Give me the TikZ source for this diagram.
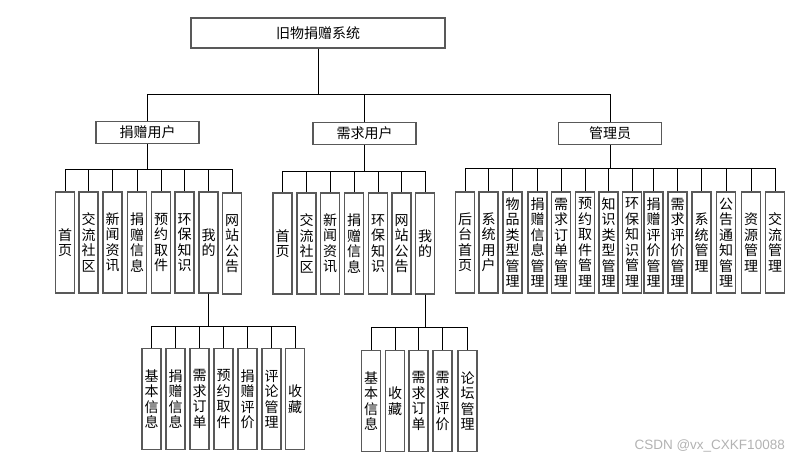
\documentclass[tikz,border=0pt]{standalone}
\usepackage{fontspec}
\newfontfamily\cjk{Noto Sans CJK SC}
\newfontfamily\wmfont{Liberation Sans}
\begin{document}
\begin{tikzpicture}[x=1pt,y=-1pt,
  box/.style={draw=black!65, line width=1.2pt, fill=white, inner sep=0pt, font=\cjk\fontsize{14}{15.5}\selectfont},
  wide/.style={box, minimum width=103pt, minimum height=22pt},
  tall/.style={box, minimum width=19pt, minimum height=101pt, align=center},
  conn/.style={draw=black, line width=0.9pt}]
\useasboundingbox (0,0) rectangle (806,463);
% root
\node[box, minimum width=254pt, minimum height=30pt] (root) at (318,33) {旧物捐赠系统};
% level 2
\node[wide] (don) at (147.5,132.5) {捐赠用户};
\node[wide] (req) at (364.5,133.5) {需求用户};
\node[wide] (adm) at (610,133.5) {管理员};
\coordinate (b0) at (0,94);
\foreach \c in {don,req,adm}{\draw[conn] (root.south) -- (root.south |- b0) -| (\c.north);}
% donor children
\coordinate (b1) at (0,169);
\node[tall] (d1) at (65,242.5) {首\\页};
\node[tall] (d2) at (88.5,242.5) {交\\流\\社\\区};
\node[tall] (d3) at (112.5,242.5) {新\\闻\\资\\讯};
\node[tall] (d4) at (137,242.5) {捐\\赠\\信\\息};
\node[tall] (d5) at (161,242.5) {预\\约\\取\\件};
\node[tall] (d6) at (184.5,242.5) {环\\保\\知\\识};
\node[tall] (d7) at (208.5,242.5) {我\\的};
\node[tall] (d8) at (232,243.5) {网\\站\\公\\告};
\foreach \c in {d1,d2,d3,d4,d5,d6,d7,d8}{\draw[conn] (don.south) -- (don.south |- b1) -| (\c.north);}
% requester children
\coordinate (b2) at (0,171);
\node[tall] (r1) at (282.5,243.5) {首\\页};
\node[tall] (r2) at (306.5,243.5) {交\\流\\社\\区};
\node[tall] (r3) at (330,243.5) {新\\闻\\资\\讯};
\node[tall] (r4) at (354,243.5) {捐\\赠\\信\\息};
\node[tall] (r5) at (378,243.5) {环\\保\\知\\识};
\node[tall] (r6) at (401.5,243.5) {网\\站\\公\\告};
\node[tall] (r7) at (425,243.5) {我\\的};
\foreach \c in {r1,r2,r3,r4,r5,r6,r7}{\draw[conn] (req.south) -- (req.south |- b2) -| (\c.north);}
% admin children
\coordinate (b3) at (0,168);
\node[tall] (a1) at (465,242.5) {后\\台\\首\\页};
\node[tall] (a2) at (488.5,242.5) {系\\统\\用\\户};
\node[tall] (a3) at (512.5,242.5) {物\\品\\类\\型\\管\\理};
\node[tall] (a4) at (537.5,242.5) {捐\\赠\\信\\息\\管\\理};
\node[tall] (a5) at (561,242.5) {需\\求\\订\\单\\管\\理};
\node[tall] (a6) at (585,242.5) {预\\约\\取\\件\\管\\理};
\node[tall] (a7) at (608.5,242.5) {知\\识\\类\\型\\管\\理};
\node[tall] (a8) at (632,242.5) {环\\保\\知\\识\\管\\理};
\node[tall] (a9) at (653.5,242.5) {捐\\赠\\评\\价\\管\\理};
\node[tall] (a10) at (677.5,242.5) {需\\求\\评\\价\\管\\理};
\node[tall] (a11) at (701.5,242.5) {系\\统\\管\\理};
\node[tall] (a12) at (726,242.5) {公\\告\\通\\知\\管\\理};
\node[tall] (a13) at (751,242.5) {资\\源\\管\\理};
\node[tall] (a14) at (775,242.5) {交\\流\\管\\理};
\foreach \c in {a1,a2,a3,a4,a5,a6,a7,a8,a9,a10,a11,a12,a13,a14}{\draw[conn] (adm.south) -- (adm.south |- b3) -| (\c.north);}
% donor "my" children
\coordinate (b4) at (0,326);
\node[tall] (m1) at (151.5,399) {基\\本\\信\\息};
\node[tall] (m2) at (175.5,399) {捐\\赠\\信\\息};
\node[tall] (m3) at (199.5,399) {需\\求\\订\\单};
\node[tall] (m4) at (223.5,399) {预\\约\\取\\件};
\node[tall] (m5) at (247.5,399) {捐\\赠\\评\\价};
\node[tall] (m6) at (271.5,399) {评\\论\\管\\理};
\node[tall] (m7) at (295,399) {收\\藏};
\foreach \c in {m1,m2,m3,m4,m5,m6,m7}{\draw[conn] (d7.south) -- (d7.south |- b4) -| (\c.north);}
% requester "my" children
\coordinate (b5) at (0,327);
\node[tall] (n1) at (371,401) {基\\本\\信\\息};
\node[tall] (n2) at (395,401) {收\\藏};
\node[tall] (n3) at (418.5,401) {需\\求\\订\\单};
\node[tall] (n4) at (442.5,401) {需\\求\\评\\价};
\node[tall] (n5) at (467.5,401) {论\\坛\\管\\理};
\foreach \c in {n1,n2,n3,n4,n5}{\draw[conn] (r7.south) -- (r7.south |- b5) -| (\c.north);}
% watermark
\node[font=\wmfont\fontsize{13.5}{15}\selectfont, text=black!30, anchor=east, inner sep=0pt] (wm) at (785,446) {CSDN @vx\_CXKF10088};
\end{tikzpicture}
\end{document}
